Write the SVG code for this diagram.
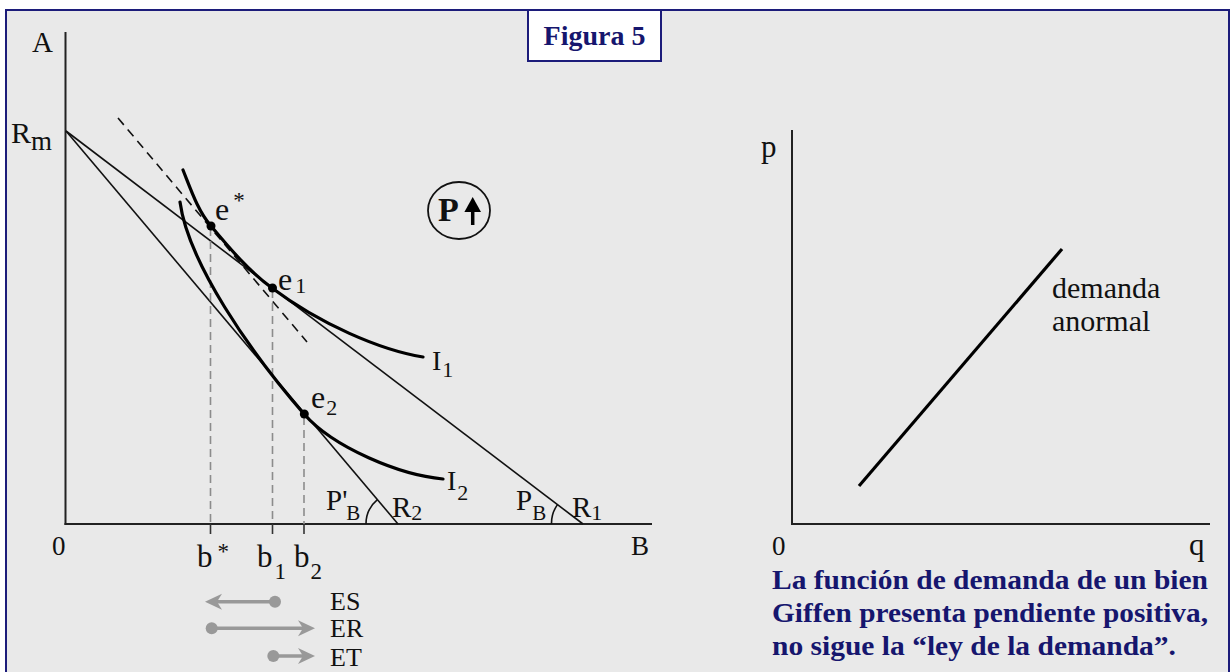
<svg xmlns="http://www.w3.org/2000/svg" width="1232" height="672" viewBox="0 0 1232 672">
<style>
.t{font-family:"Liberation Serif","Times New Roman",serif;fill:#111}
.nv{font-family:"Liberation Serif","Times New Roman",serif;font-weight:bold;fill:#16166e}
.ax{stroke:#222;stroke-width:2;fill:none}
.bl{stroke:#111;stroke-width:1.6;fill:none}
.cv{stroke:#000;stroke-width:3.2;fill:none;stroke-linecap:round}
.gd{stroke:#8c8c8c;stroke-width:1.6;stroke-dasharray:8 5;fill:none}
.tk{stroke:#333;stroke-width:1.6}
.ga{stroke:#999;stroke-width:3.5;fill:none}
.gdot{fill:#999}
.dot{fill:#000}
</style>
<defs>
<marker id="ah" markerUnits="userSpaceOnUse" viewBox="0 0 18 18" refX="5" refY="9" markerWidth="18" markerHeight="18" orient="auto">
<path d="M0,1 L17,9 L0,17 L5,9 Z" fill="#999"/>
</marker>
</defs>
<rect x="0" y="0" width="1232" height="672" fill="#fff"/>
<rect x="6" y="10" width="1223" height="672" fill="#e9e9e9" stroke="#1c1c7a" stroke-width="2"/>

<g id="title">
<rect x="528" y="10" width="133" height="51" fill="#fff" stroke="#1c1c7a" stroke-width="2"/>
<text class="nv" x="594.5" y="45" font-size="28" text-anchor="middle">Figura 5</text>
</g>

<g id="left-axes">
<line class="ax" x1="65.5" y1="32" x2="65.5" y2="525"/>
<line class="ax" x1="64.5" y1="524" x2="652" y2="524"/>
<text class="t" x="32" y="52" font-size="29">A</text>
<text class="t" x="11" y="143" font-size="30">R<tspan font-size="27" dy="7">m</tspan></text>
<text class="t" x="52" y="555" font-size="27">0</text>
<text class="t" x="631" y="555" font-size="27">B</text>
</g>

<g id="connectors">
<line class="bl" x1="66" y1="131" x2="583" y2="524"/>
<line class="bl" x1="66" y1="131" x2="398" y2="524"/>
<line x1="118" y1="118" x2="307" y2="342" stroke="#111" stroke-width="1.6" stroke-dasharray="9 6"/>
<path class="bl" d="M366,524 A32,32 0 0 1 377.4,499.6"/>
<path class="bl" d="M551.5,524 A32,32 0 0 1 557.5,504.6"/>
<line class="gd" x1="210.5" y1="228" x2="210.5" y2="524"/>
<line class="gd" x1="272.5" y1="290" x2="272.5" y2="524"/>
<line class="gd" x1="304" y1="417" x2="304" y2="524"/>
<line class="tk" x1="210.5" y1="524" x2="210.5" y2="534"/>
<line class="tk" x1="272.5" y1="524" x2="272.5" y2="534"/>
<line class="tk" x1="304" y1="524" x2="304" y2="534"/>
</g>

<g id="I1">
<path class="cv" d="M183,170 C191,190 198,211 211,226 C231,250 249,271 272,288 C320,324 380,350 423,357"/>
<text class="t" x="432" y="370" font-size="28">I<tspan font-size="22" dx="1" dy="7">1</tspan></text>
</g>
<g id="I2">
<path class="cv" d="M180,202 C188,262 250,352 304,414 C334,448 400,475 443,479"/>
<text class="t" x="447" y="490" font-size="28">I<tspan font-size="22" dx="1" dy="10">2</tspan></text>
</g>

<g id="e-star">
<circle class="dot" cx="211" cy="226" r="4.5"/>
<text class="t" x="215" y="220" font-size="32">e<tspan font-size="23" dx="4" dy="-12">*</tspan></text>
</g>
<g id="e1">
<circle class="dot" cx="272.5" cy="288" r="4.5"/>
<text class="t" x="278" y="290" font-size="32">e<tspan font-size="22" dx="3" dy="3">1</tspan></text>
</g>
<g id="e2">
<circle class="dot" cx="304.3" cy="414" r="4.5"/>
<text class="t" x="311" y="408" font-size="32">e<tspan font-size="22" dx="1" dy="7">2</tspan></text>
</g>

<g id="b-labels">
<text class="t" x="197" y="567" font-size="31">b<tspan font-size="23" dx="5" dy="-8">*</tspan></text>
<text class="t" x="257" y="567" font-size="31">b<tspan font-size="23" dx="2" dy="12">1</tspan></text>
<text class="t" x="294" y="567" font-size="31">b<tspan font-size="23" dx="1" dy="12">2</tspan></text>
</g>

<g id="budget-labels">
<text class="t" x="326" y="510" font-size="29">P'<tspan font-size="21" dx="-1" dy="10">B</tspan></text>
<text class="t" x="392" y="517" font-size="29">R<tspan font-size="22" dy="3">2</tspan></text>
<text class="t" x="516" y="510" font-size="29">P<tspan font-size="21" dy="10">B</tspan></text>
<text class="t" x="572" y="517" font-size="29">R<tspan font-size="22" dy="3">1</tspan></text>
</g>

<g id="p-up">
<ellipse cx="459" cy="210.5" rx="31" ry="28.5" fill="none" stroke="#111" stroke-width="1.8"/>
<text class="t" x="438" y="221" font-size="34" font-weight="bold">P</text>
<line x1="472.7" y1="208" x2="472.7" y2="225" stroke="#000" stroke-width="3.5"/>
<polygon points="472.7,197 481,212 464.4,212" fill="#000"/>
</g>

<g id="effects">
<line class="ga" x1="275" y1="601.7" x2="217" y2="601.7" marker-end="url(#ah)"/>
<circle class="gdot" cx="275" cy="601.7" r="6"/>
<line class="ga" x1="211.7" y1="628.3" x2="303" y2="628.3" marker-end="url(#ah)"/>
<circle class="gdot" cx="211.7" cy="628.3" r="6"/>
<line class="ga" x1="273.3" y1="656" x2="303" y2="656" marker-end="url(#ah)"/>
<circle class="gdot" cx="273.3" cy="656" r="6"/>
<text class="t" x="330" y="610" font-size="26">ES</text>
<text class="t" x="330" y="637" font-size="26">ER</text>
<text class="t" x="330" y="666" font-size="26">ET</text>
</g>

<g id="right-chart">
<line class="ax" x1="792" y1="130" x2="792" y2="525"/>
<line class="ax" x1="791" y1="524" x2="1210" y2="524"/>
<line x1="859" y1="486" x2="1062" y2="249" stroke="#000" stroke-width="3.2"/>
<text class="t" x="761" y="157" font-size="31">p</text>
<text class="t" x="772" y="555" font-size="27">0</text>
<text class="t" x="1189" y="555" font-size="31">q</text>
<text class="t" x="1052" y="298" font-size="30">demanda</text>
<text class="t" x="1052" y="331" font-size="30">anormal</text>
</g>

<g id="caption">
<text class="nv" x="772" y="589" font-size="27" textLength="436" lengthAdjust="spacingAndGlyphs">La función de demanda de un bien</text>
<text class="nv" x="772" y="622" font-size="27" textLength="436" lengthAdjust="spacingAndGlyphs">Giffen presenta pendiente positiva,</text>
<text class="nv" x="772" y="655" font-size="27" textLength="404" lengthAdjust="spacingAndGlyphs">no sigue la “ley de la demanda”.</text>
</g>
</svg>
